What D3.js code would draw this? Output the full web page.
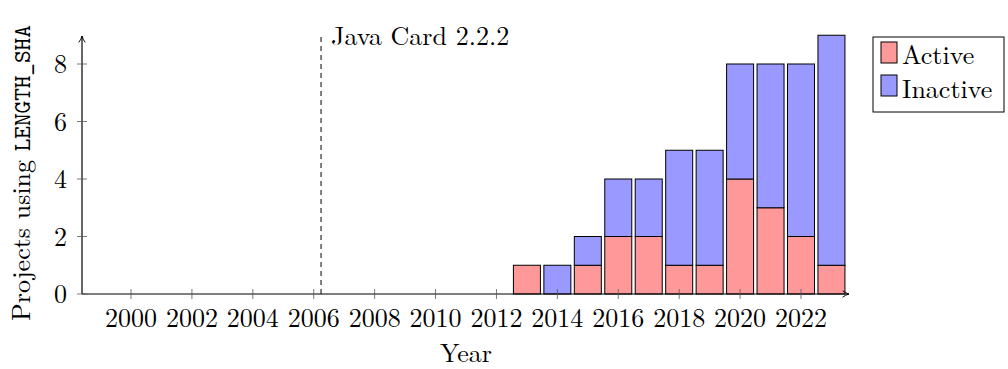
<!DOCTYPE html>
<html>
<head>
<meta charset="utf-8">
<script src="https://cdn.jsdelivr.net/npm/d3@7"></script>
<style>
	body { margin: 0; background: #fff; }
	svg { display: block; }
	text { font-family: 'Latin Modern Roman', 'Liberation Serif', 'DejaVu Serif', serif; fill: #000; }
</style>
</head>
<body>
<div class="chart"></div>
<script>
// projects per year, split by status
const years = [2013, 2014, 2015, 2016, 2017, 2018, 2019, 2020, 2021, 2022, 2023]
const active = [1, 0, 1, 2, 2, 1, 1, 4, 3, 2, 1]
const inactive = [0, 1, 1, 2, 2, 4, 4, 4, 5, 6, 8]
const xTicks = [2000, 2002, 2004, 2006, 2008, 2010, 2012, 2014, 2016, 2018, 2020, 2022]
const yTicks = [0, 2, 4, 6, 8]
const markerYear = 2006.24
const markerLabel = 'Java Card 2.2.2'
const seriesNames = ['Active', 'Inactive']
const seriesColors = ['#ff9999', '#9999ff']

const width = 1008
const height = 369
const svg = d3.select('.chart')
	.append('svg')
	.attr('width', width)
	.attr('height', height)

const x = d3.scaleLinear().domain([2000, 2022]).range([131, 801])
const y = d3.scaleLinear().domain([0, 8]).range([294, 64])
const x0 = 82, y0 = 294
const fs = 26

const data = years.map((yr, i) => ({year: yr, active: active[i], inactive: inactive[i]}))
const stack = d3.stack().keys(['active', 'inactive'])(data)
const barW = 27

// arrow marker
svg.append('defs').append('marker')
	.attr('id', 'arr')
	.attr('viewBox', '0 0 10 10')
	.attr('refX', 9).attr('refY', 5)
	.attr('markerWidth', 8).attr('markerHeight', 8)
	.attr('markerUnits', 'userSpaceOnUse')
	.attr('orient', 'auto')
	.append('path')
	.attr('d', 'M1,1 Q5,4 9,5 Q5,6 1,9')
	.attr('fill', 'none')
	.attr('stroke', '#000')
	.attr('stroke-width', 1.2)

// bars
stack.forEach((s, k) => {
	svg.selectAll('rect.s' + k)
		.data(s.filter(d => d[1] > d[0]))
		.enter()
		.append('rect')
		.attr('x', d => x(d.data.year) - barW / 2)
		.attr('y', d => y(d[1]))
		.attr('width', barW)
		.attr('height', d => y(d[0]) - y(d[1]))
		.attr('fill', seriesColors[k])
		.attr('stroke', '#000')
		.attr('stroke-width', 1)
})

// dashed marker line
svg.append('line')
	.attr('x1', x(markerYear)).attr('x2', x(markerYear))
	.attr('y1', y0).attr('y2', y(9))
	.attr('stroke', '#000')
	.attr('stroke-width', 1)
	.attr('stroke-dasharray', '5,4')
svg.append('text')
	.text(markerLabel)
	.attr('x', x(markerYear) + 10)
	.attr('y', 45)
	.attr('font-size', fs)

// axes
svg.append('line')
	.attr('x1', x0).attr('x2', 849)
	.attr('y1', y0).attr('y2', y0)
	.attr('stroke', '#000').attr('stroke-width', 1.2)
	.attr('marker-end', 'url(#arr)')
svg.append('line')
	.attr('x1', x0).attr('x2', x0)
	.attr('y1', y0).attr('y2', 36)
	.attr('stroke', '#000').attr('stroke-width', 1.2)
	.attr('marker-end', 'url(#arr)')

// x ticks
svg.selectAll('line.xt')
	.data(xTicks)
	.enter()
	.append('line')
	.attr('x1', d => x(d)).attr('x2', d => x(d))
	.attr('y1', y0 - 5).attr('y2', y0 + 5)
	.attr('stroke', '#555').attr('stroke-width', 0.8)
svg.selectAll('text.xt')
	.data(xTicks)
	.enter()
	.append('text')
	.text(d => d)
	.attr('x', d => x(d))
	.attr('y', 327)
	.attr('text-anchor', 'middle')
	.attr('font-size', fs)

// y ticks
svg.selectAll('line.yt')
	.data(yTicks)
	.enter()
	.append('line')
	.attr('x1', x0 - 5).attr('x2', x0 + 5)
	.attr('y1', d => y(d)).attr('y2', d => y(d))
	.attr('stroke', '#555').attr('stroke-width', 0.8)
svg.selectAll('text.yt')
	.data(yTicks)
	.enter()
	.append('text')
	.text(d => d)
	.attr('x', 67)
	.attr('y', d => y(d) + 9)
	.attr('text-anchor', 'end')
	.attr('font-size', fs)

// axis labels
svg.append('text')
	.text('Year')
	.attr('x', 466)
	.attr('y', 362)
	.attr('text-anchor', 'middle')
	.attr('font-size', fs)
const yl = svg.append('text')
	.attr('transform', 'translate(30,321) rotate(-90)')
	.attr('text-anchor', 'start')
	.attr('font-size', fs)
yl.append('tspan').text('Projects using ')
yl.append('tspan').text('LENGTH_SHA')
	.attr('font-family', "'Latin Modern Mono', 'Liberation Mono', 'DejaVu Sans Mono', monospace")
	.attr('font-size', 24)

// legend
const lg = svg.append('g').attr('transform', 'translate(873,37)')
lg.append('rect')
	.attr('width', 131).attr('height', 75)
	.attr('fill', '#fff').attr('stroke', '#000').attr('stroke-width', 1)
lg.selectAll('rect.key')
	.data(seriesNames)
	.enter()
	.append('rect')
	.attr('x', 8)
	.attr('y', (d, i) => 5 + i * 33)
	.attr('width', 16).attr('height', 21)
	.attr('fill', (d, i) => seriesColors[i])
	.attr('stroke', '#000').attr('stroke-width', 1)
lg.selectAll('text.key')
	.data(seriesNames)
	.enter()
	.append('text')
	.text(d => d)
	.attr('x', 29)
	.attr('y', (d, i) => 27 + i * 34)
	.attr('font-size', fs)
</script>
</body>
</html>
